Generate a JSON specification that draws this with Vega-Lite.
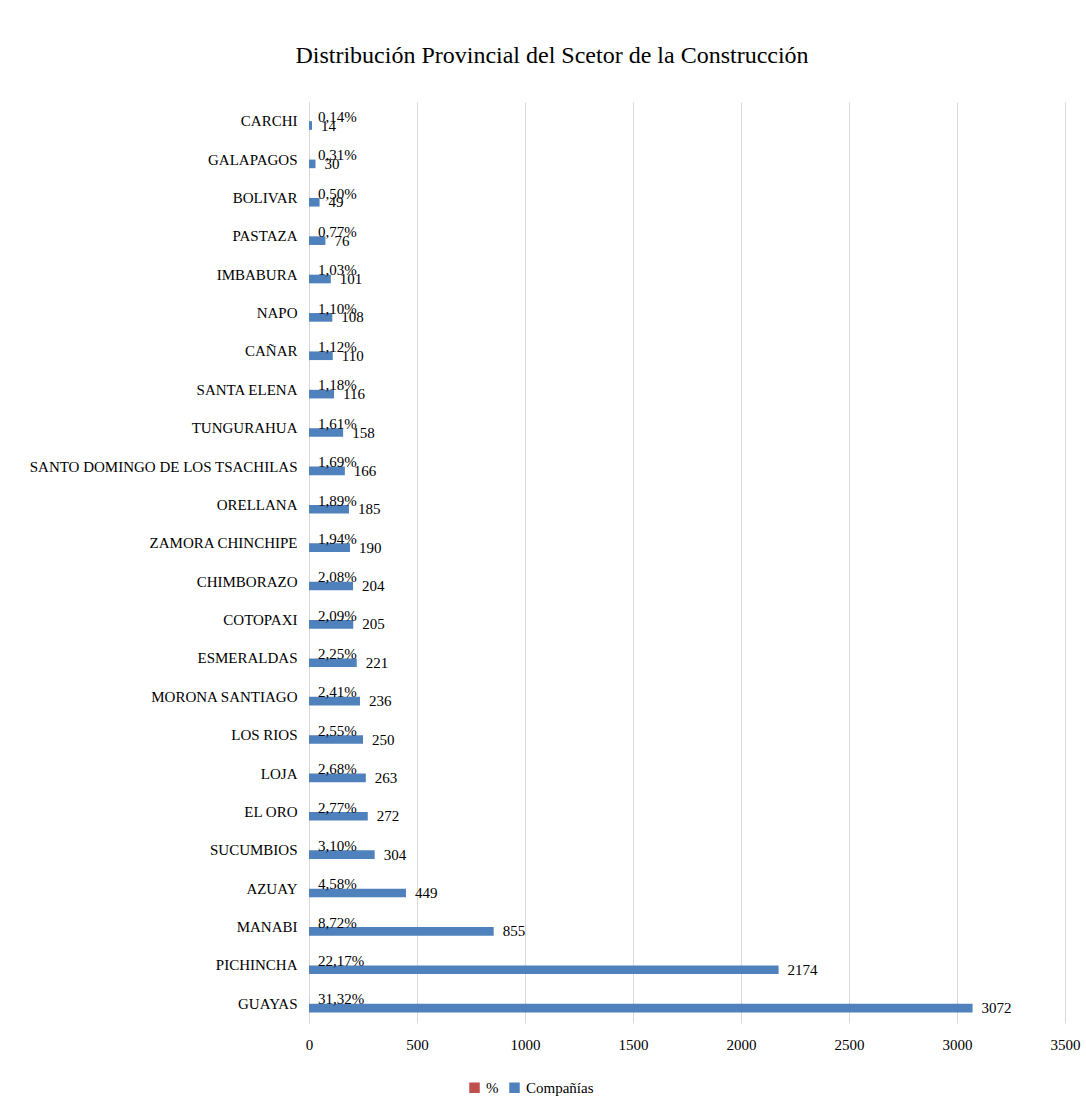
{
  "$schema": "https://vega.github.io/schema/vega-lite/v6.json",
  "autosize": "none",
  "width": 756,
  "height": 921,
  "padding": {"left": 309, "top": 102, "right": 21, "bottom": 92},
  "background": "white",
  "config": {
    "font": "Liberation Serif",
    "view": {"stroke": null},
    "axis": {"labelFont": "Liberation Serif", "labelColor": "#000000"},
    "legend": {"labelFont": "Liberation Serif", "labelColor": "#000000"}
  },
  "title": {
    "text": "Distribución Provincial del Scetor de la Construcción",
    "font": "Liberation Serif",
    "fontSize": 24,
    "fontWeight": "normal",
    "color": "#000000",
    "anchor": "middle",
    "dx": -135,
    "offset": 34
  },
  "data": {
    "values": [
      {"prov": "CARCHI", "serie": "%", "valor": 0.0014, "label": "0,14%"},
      {"prov": "CARCHI", "serie": "Compañías", "valor": 14, "label": "14"},
      {"prov": "GALAPAGOS", "serie": "%", "valor": 0.0031, "label": "0,31%"},
      {"prov": "GALAPAGOS", "serie": "Compañías", "valor": 30, "label": "30"},
      {"prov": "BOLIVAR", "serie": "%", "valor": 0.005, "label": "0,50%"},
      {"prov": "BOLIVAR", "serie": "Compañías", "valor": 49, "label": "49"},
      {"prov": "PASTAZA", "serie": "%", "valor": 0.0077, "label": "0,77%"},
      {"prov": "PASTAZA", "serie": "Compañías", "valor": 76, "label": "76"},
      {"prov": "IMBABURA", "serie": "%", "valor": 0.0103, "label": "1,03%"},
      {"prov": "IMBABURA", "serie": "Compañías", "valor": 101, "label": "101"},
      {"prov": "NAPO", "serie": "%", "valor": 0.011, "label": "1,10%"},
      {"prov": "NAPO", "serie": "Compañías", "valor": 108, "label": "108"},
      {"prov": "CAÑAR", "serie": "%", "valor": 0.0112, "label": "1,12%"},
      {"prov": "CAÑAR", "serie": "Compañías", "valor": 110, "label": "110"},
      {"prov": "SANTA ELENA", "serie": "%", "valor": 0.0118, "label": "1,18%"},
      {"prov": "SANTA ELENA", "serie": "Compañías", "valor": 116, "label": "116"},
      {"prov": "TUNGURAHUA", "serie": "%", "valor": 0.0161, "label": "1,61%"},
      {"prov": "TUNGURAHUA", "serie": "Compañías", "valor": 158, "label": "158"},
      {"prov": "SANTO DOMINGO DE LOS TSACHILAS", "serie": "%", "valor": 0.0169, "label": "1,69%"},
      {"prov": "SANTO DOMINGO DE LOS TSACHILAS", "serie": "Compañías", "valor": 166, "label": "166"},
      {"prov": "ORELLANA", "serie": "%", "valor": 0.0189, "label": "1,89%"},
      {"prov": "ORELLANA", "serie": "Compañías", "valor": 185, "label": "185"},
      {"prov": "ZAMORA CHINCHIPE", "serie": "%", "valor": 0.0194, "label": "1,94%"},
      {"prov": "ZAMORA CHINCHIPE", "serie": "Compañías", "valor": 190, "label": "190"},
      {"prov": "CHIMBORAZO", "serie": "%", "valor": 0.0208, "label": "2,08%"},
      {"prov": "CHIMBORAZO", "serie": "Compañías", "valor": 204, "label": "204"},
      {"prov": "COTOPAXI", "serie": "%", "valor": 0.0209, "label": "2,09%"},
      {"prov": "COTOPAXI", "serie": "Compañías", "valor": 205, "label": "205"},
      {"prov": "ESMERALDAS", "serie": "%", "valor": 0.0225, "label": "2,25%"},
      {"prov": "ESMERALDAS", "serie": "Compañías", "valor": 221, "label": "221"},
      {"prov": "MORONA SANTIAGO", "serie": "%", "valor": 0.0241, "label": "2,41%"},
      {"prov": "MORONA SANTIAGO", "serie": "Compañías", "valor": 236, "label": "236"},
      {"prov": "LOS RIOS", "serie": "%", "valor": 0.0255, "label": "2,55%"},
      {"prov": "LOS RIOS", "serie": "Compañías", "valor": 250, "label": "250"},
      {"prov": "LOJA", "serie": "%", "valor": 0.0268, "label": "2,68%"},
      {"prov": "LOJA", "serie": "Compañías", "valor": 263, "label": "263"},
      {"prov": "EL ORO", "serie": "%", "valor": 0.0277, "label": "2,77%"},
      {"prov": "EL ORO", "serie": "Compañías", "valor": 272, "label": "272"},
      {"prov": "SUCUMBIOS", "serie": "%", "valor": 0.031, "label": "3,10%"},
      {"prov": "SUCUMBIOS", "serie": "Compañías", "valor": 304, "label": "304"},
      {"prov": "AZUAY", "serie": "%", "valor": 0.0458, "label": "4,58%"},
      {"prov": "AZUAY", "serie": "Compañías", "valor": 449, "label": "449"},
      {"prov": "MANABI", "serie": "%", "valor": 0.0872, "label": "8,72%"},
      {"prov": "MANABI", "serie": "Compañías", "valor": 855, "label": "855"},
      {"prov": "PICHINCHA", "serie": "%", "valor": 0.2217, "label": "22,17%"},
      {"prov": "PICHINCHA", "serie": "Compañías", "valor": 2174, "label": "2174"},
      {"prov": "GUAYAS", "serie": "%", "valor": 0.3132, "label": "31,32%"},
      {"prov": "GUAYAS", "serie": "Compañías", "valor": 3072, "label": "3072"}
    ]
  },
  "encoding": {
    "y": {
      "field": "prov",
      "type": "nominal",
      "sort": null,
      "scale": {"paddingInner": 0.55, "paddingOuter": 0.275},
      "axis": {
        "title": null,
        "ticks": false,
        "domain": true,
        "domainColor": "#d9d9d9",
        "labelFontSize": 15,
        "labelPadding": 12,
        "labelLimit": 0,
        "grid": false
      }
    },
    "yOffset": {"field": "serie", "type": "nominal", "scale": {"paddingInner": 0}},
    "x": {
      "field": "valor",
      "type": "quantitative",
      "scale": {"domain": [0, 3500], "nice": false},
      "axis": {
        "title": null,
        "values": [0, 500, 1000, 1500, 2000, 2500, 3000, 3500],
        "format": "d",
        "domain": false,
        "ticks": false,
        "grid": true,
        "gridColor": "#d9d9d9",
        "labelFontSize": 15,
        "labelPadding": 14,
        "labelFlush": false
      }
    }
  },
  "layer": [
    {
      "mark": {"type": "bar"},
      "encoding": {
        "color": {
          "field": "serie",
          "type": "nominal",
          "scale": {"domain": ["%", "Compañías"], "range": ["#C0504D", "#4F81BD"]},
          "legend": {
            "title": null,
            "orient": "none",
            "direction": "horizontal",
            "legendX": 158,
            "legendY": 978,
            "symbolType": "square",
            "symbolSize": 110,
            "labelFontSize": 15,
            "labelFont": "Liberation Serif",
            "labelColor": "#000000",
            "columnPadding": 8,
            "symbolOffset": 0
          }
        }
      }
    },
    {
      "mark": {"type": "text", "align": "left", "baseline": "middle", "dx": 9, "fontSize": 15, "font": "Liberation Serif", "color": "#000000"},
      "encoding": {"text": {"field": "label"}}
    }
  ]
}
